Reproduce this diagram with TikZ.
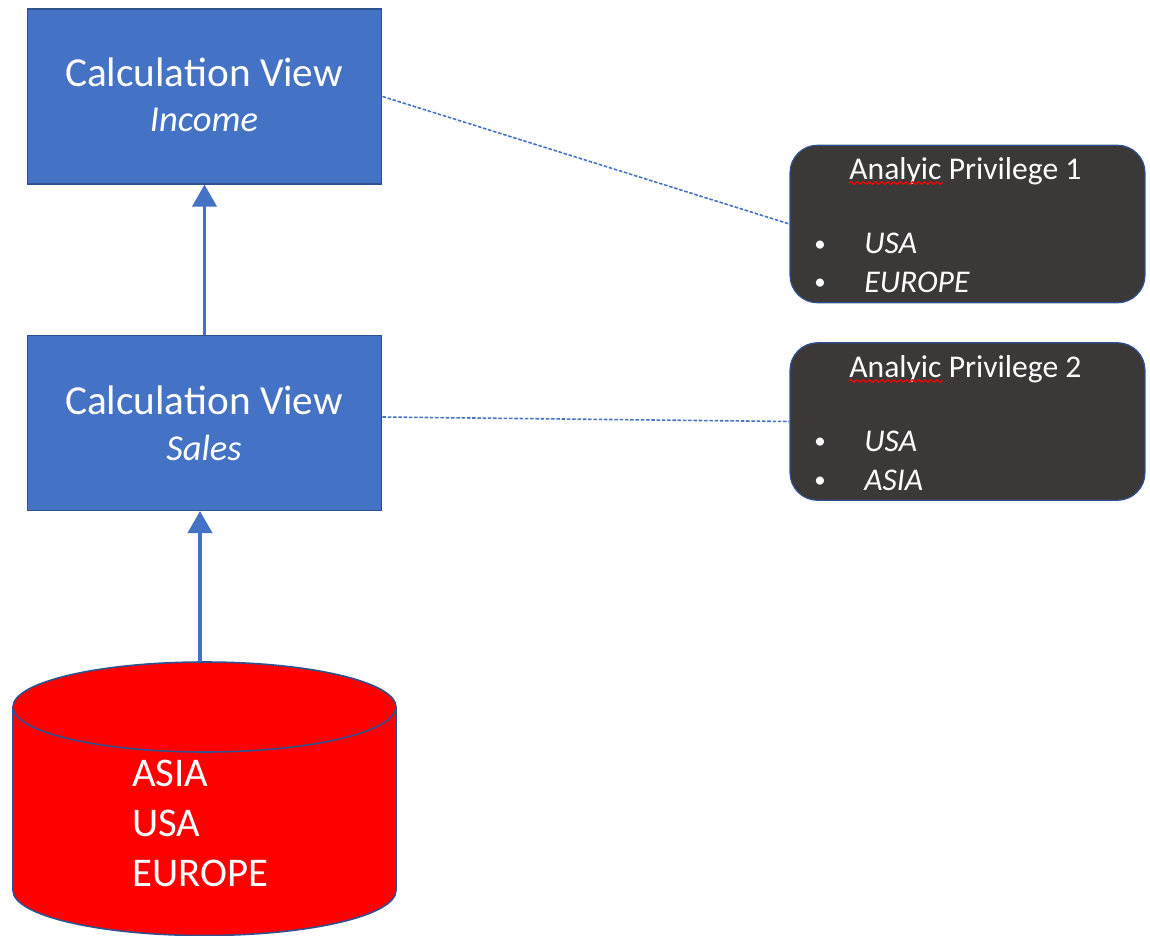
\documentclass[tikz,border=0pt]{standalone}
\RequirePackage{fontspec}
\RequirePackage{tikz}
\setmainfont{Carlito}
\usetikzlibrary{arrows.meta, decorations.pathmorphing}
\definecolor{viewblue}{HTML}{4472C4}
\definecolor{viewedge}{HTML}{2F528F}
\definecolor{privdark}{HTML}{3B3838}

\begin{document}
\begin{tikzpicture}[x=0.02cm, y=-0.02cm,
        view/.style={draw=viewedge, fill=viewblue, line width=0.6pt, minimum width=7.1cm, minimum height=3.5cm, inner sep=0pt},
        viewtext/.style={text=white, font=\fontsize{23.5}{26}\selectfont, inner sep=0pt},
        viewsub/.style={text=white, font=\fontsize{20.8}{24}\selectfont\itshape, inner sep=0pt},
        priv/.style={draw=viewedge, fill=privdark, line width=0.7pt, rounded corners=0.55cm, minimum width=7.1cm, minimum height=3.15cm, inner sep=0pt},
        privtext/.style={text=white, font=\fontsize{18}{21}\selectfont, inner sep=0pt, anchor=base west},
        privitem/.style={privtext, font=\fontsize{18}{21}\selectfont\itshape},
        privdot/.style={privtext, font=\fontsize{13}{15}\selectfont},
        feed/.style={draw=viewblue, line width=2.2pt, -{Triangle[width=0.48cm, length=0.44cm]}},
        link/.style={draw=viewblue, line width=0.9pt, dash pattern=on 2pt off 1pt},
        spell/.style={draw=red, line width=0.7pt, decorate, decoration={snake, amplitude=0.7pt, segment length=3.5pt}},
        store/.style={draw=viewedge, line width=0.9pt, fill=red}]
    \useasboundingbox (0, 0) rectangle (1150, 936);

    \node[view] (income) at (204.5, 96.5) {};
    \node[viewtext] (incometitle) at (204, 72) {Calculation View};
    \node[viewsub] (incomesub) at (204, 120) {Income};

    \node[view] (sales) at (204.5, 423) {};
    \node[viewtext] (salestitle) at (204, 400) {Calculation View};
    \node[viewsub] (salessub) at (204, 448) {Sales};

    \coordinate (storetop) at (200, 662);
    \draw[store] (13, 707) -- (13, 890.5) arc[start angle=180, end angle=360, x radius=191.5, y radius=-45] -- (396, 707) arc[start angle=0, end angle=180, x radius=191.5, y radius=-45] -- cycle;
    \draw[store, fill=none] (13, 707) arc[start angle=180, end angle=360, x radius=191.5, y radius=-45];
    \node[text=white, font=\fontsize{23.2}{28.4}\selectfont, align=left, inner sep=0pt, anchor=north west] (storetext) at (132, 760) {ASIA\\USA\\EUROPE};

    \node[priv] (privone) at (967.5, 224) {};
    \node[privtext] (privonetitle) at (849, 179) {Analyic Privilege 1};
    \node[privdot] (privonebulleta) at (814, 251) {•};
    \node[privitem] (privoneusa) at (864, 254) {USA};
    \node[privdot] (privonebulletb) at (814, 289) {•};
    \node[privitem] (privoneeurope) at (864, 292) {EUROPE};
    \draw[spell] (849, 183) -- (943, 183);

    \node[priv] (privtwo) at (967.5, 421.5) {};
    \node[privtext] (privtwotitle) at (849, 377) {Analyic Privilege 2};
    \node[privdot] (privtwobulleta) at (814, 448) {•};
    \node[privitem] (privtwousa) at (864, 451) {USA};
    \node[privdot] (privtwobulletb) at (814, 487) {•};
    \node[privitem] (privtwoasia) at (864, 490) {ASIA};
    \draw[spell] (849, 381) -- (943, 381);

    \draw[feed] (sales.north) -- (income.south);
    \draw[feed] (storetop) -- (storetop |- sales.south);

    \draw[link] (income.east) -- (privone.west);
    \draw[link] ([yshift=0.12cm]sales.east) -- (privtwo.west);
\end{tikzpicture}
\end{document}
